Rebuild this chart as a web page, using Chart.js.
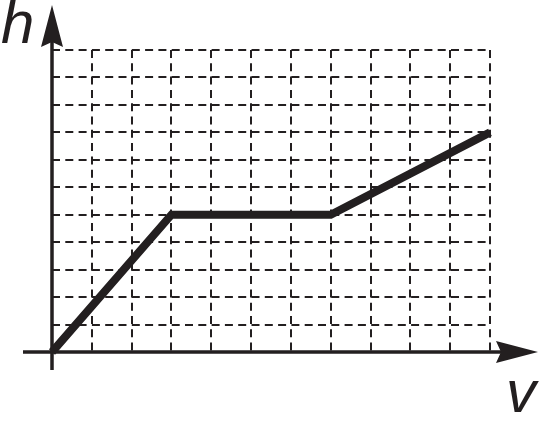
<!DOCTYPE html>
<html>
<head>
<meta charset="utf-8">
<script src="https://cdn.jsdelivr.net/npm/chart.js@4"></script>
<style>
  html, body { margin: 0; padding: 0; background: #fff; }
  #wrap { width: 540px; height: 431px; }
</style>
</head>
<body>
<div id="wrap"><canvas id="myChart" width="540" height="431"></canvas></div>
<script>
const vValues = [0, 3, 7, 11];
const hValues = [0, 5, 5, 8];
const vRange = [0, 11];
const hRange = [0, 11];

const ink = "#231f20";

const points = vValues.map((v, i) => ({ x: v, y: hValues[i] }));

const drawArrow = (ctx, tipX, tipY, dir) => {
  // dir: "up" or "right"
  ctx.beginPath();
  if (dir === "up") {
    ctx.moveTo(tipX, tipY);
    ctx.lineTo(tipX + 11, tipY + 42);
    ctx.lineTo(tipX, tipY + 37);
    ctx.lineTo(tipX - 11, tipY + 42);
  } else {
    ctx.moveTo(tipX, tipY);
    ctx.lineTo(tipX - 42, tipY - 11);
    ctx.lineTo(tipX - 37, tipY);
    ctx.lineTo(tipX - 42, tipY + 11);
  }
  ctx.closePath();
  ctx.fill();
};

const axesPlugin = {
  id: "axesPlugin",
  afterDraw(chart) {
    const { ctx, scales } = chart;
    const x0 = scales.x.getPixelForValue(0);
    const y0 = scales.y.getPixelForValue(0);
    ctx.save();
    ctx.strokeStyle = ink;
    ctx.fillStyle = ink;
    ctx.lineWidth = 3.5;
    ctx.beginPath();
    ctx.moveTo(x0, y0 + 18);
    ctx.lineTo(x0, 20);
    ctx.moveTo(x0 - 29, y0);
    ctx.lineTo(520, y0);
    ctx.stroke();
    drawArrow(ctx, x0, 5, "up");
    drawArrow(ctx, 538, y0, "right");

    ctx.font = 'italic 60px "Liberation Sans", Arial, sans-serif';
    ctx.textBaseline = "alphabetic";
    ctx.textAlign = "left";
    ctx.fillText("h", 1, 43);
    ctx.fillText("v", 506, 412);
    ctx.restore();
  },
};

const ctx = document.getElementById("myChart");

const myChart = new Chart(ctx, {
  type: "line",
  plugins: [axesPlugin],
  data: {
    datasets: [
      {
        label: "h(v)",
        data: points,
        borderColor: ink,
        borderWidth: 8,
        pointRadius: 0,
        tension: 0,
        fill: false,
        clip: false,
      },
    ],
  },
  options: {
    responsive: false,
    animation: false,
    layout: {
      padding: { left: 52, top: 50, right: 50, bottom: 79 },
    },
    plugins: {
      legend: { display: false },
      tooltip: { enabled: false },
      title: { display: false },
    },
    scales: {
      x: {
        type: "linear",
        min: vRange[0],
        max: vRange[1],
        ticks: { display: false, stepSize: 1 },
        grid: { color: ink, lineWidth: 2, drawTicks: false },
        border: { display: false, dash: [8, 5.3] },
      },
      y: {
        type: "linear",
        min: hRange[0],
        max: hRange[1],
        ticks: { display: false, stepSize: 1 },
        grid: { color: ink, lineWidth: 2, drawTicks: false },
        border: { display: false, dash: [8, 5.3] },
      },
    },
  },
});
</script>
</body>
</html>
